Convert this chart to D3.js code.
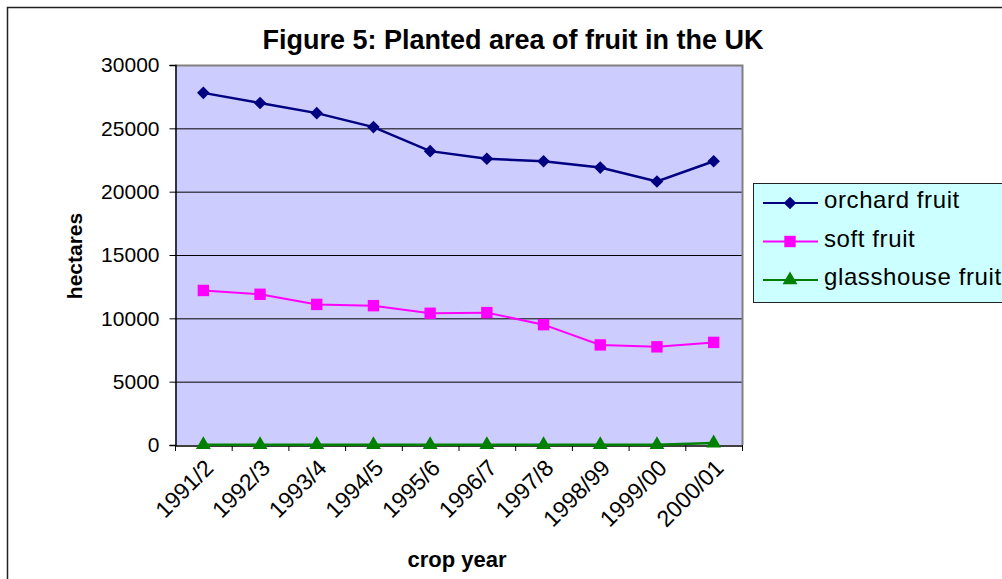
<!DOCTYPE html>
<html>
<head>
<meta charset="utf-8">
<script src="https://cdn.jsdelivr.net/npm/d3@7"></script>
<style>
  body { margin: 0; background: #fff; }
  svg { display: block; font-family: Arial, "Liberation Sans", sans-serif; }
</style>
</head>
<body>
<svg width="1002" height="579"></svg>
<script>
// data
var years = ["1991/2", "1992/3", "1993/4", "1994/5", "1995/6", "1996/7", "1997/8", "1998/99", "1999/00", "2000/01"];
var orchard = [27800, 27000, 26200, 25100, 23200, 22600, 22400, 21900, 20800, 22400];
var soft = [12200, 11900, 11100, 11000, 10400, 10450, 9500, 7900, 7750, 8100];
var glasshouse = [20, 20, 20, 20, 20, 20, 20, 20, 20, 150];
var yTicks = [0, 5000, 10000, 15000, 20000, 25000, 30000];

// diamond = square turned 45 degrees
var diamond = {
  draw: function(ctx, size) {
    var r = Math.sqrt(size / 2);
    ctx.moveTo(0, -r); ctx.lineTo(r, 0); ctx.lineTo(0, r); ctx.lineTo(-r, 0); ctx.closePath();
  }
};

var series = [
  {name: "orchard fruit", values: orchard, color: "#000080", shape: diamond, size: 80, width: 2.5},
  {name: "soft fruit", values: soft, color: "#FF00FF", shape: d3.symbolSquare, size: 130, width: 2},
  {name: "glasshouse fruit", values: glasshouse, color: "#008000", shape: d3.symbolTriangle, size: 95, width: 2.5}
];

var svg = d3.select("svg");
var plot = {left: 175, right: 742, top: 65, bottom: 445};

// outer frame (only top and left visible)
svg.append("path")
  .attr("d", "M7.5,579V7.5H1002")
  .attr("fill", "none").attr("stroke", "#222").attr("stroke-width", 1.5);

var x = d3.scaleBand().domain(years).range([plot.left, plot.right]);
var y = d3.scaleLinear().domain([0, 30000]).range([plot.bottom, plot.top]);

// plot background
svg.append("rect")
  .attr("x", plot.left).attr("y", plot.top)
  .attr("width", plot.right - plot.left).attr("height", plot.bottom - plot.top)
  .attr("fill", "#CCCCFF");

// gridlines
svg.append("g").selectAll("line")
  .data(yTicks.filter(function(d) { return d > 0 && d < 30000; }))
  .enter().append("line")
  .attr("x1", plot.left).attr("x2", plot.right)
  .attr("y1", function(d) { return y(d) + 0.5; })
  .attr("y2", function(d) { return y(d) + 0.5; })
  .attr("stroke", "#000").attr("stroke-width", 1);

// gray border top/right
svg.append("path")
  .attr("d", "M" + plot.left + "," + (plot.top + 0.5) + "H" + (plot.right + 0.5) + "V" + plot.bottom)
  .attr("fill", "none").attr("stroke", "#808080").attr("stroke-width", 2);

// y axis
var yAxis = svg.append("g")
  .attr("transform", "translate(" + (plot.left + 0.5) + ",0)")
  .call(d3.axisLeft(y).tickValues(yTicks).tickSize(6).tickPadding(10).tickFormat(d3.format("d")));
yAxis.selectAll("text").attr("font-size", 21).attr("fill", "#000").attr("font-family", "Arial, 'Liberation Sans', sans-serif");
yAxis.selectAll("line, path").attr("stroke", "#000");
yAxis.select(".domain").attr("stroke-width", 1.5);

// x axis
var xAxis = svg.append("g")
  .attr("transform", "translate(0," + (plot.bottom + 0.5) + ")")
  .call(d3.axisBottom(x).tickSize(0).tickFormat(""));
xAxis.select(".domain").attr("stroke", "#000").attr("stroke-width", 1.5);
svg.append("g").selectAll("line")
  .data(years.concat(["end"]))
  .enter().append("line")
  .attr("x1", function(d, i) { return plot.left + i * x.step() + 0.5; })
  .attr("x2", function(d, i) { return plot.left + i * x.step() + 0.5; })
  .attr("y1", plot.bottom).attr("y2", plot.bottom + 6)
  .attr("stroke", "#000");

svg.append("g").selectAll("text")
  .data(years)
  .enter().append("text")
  .attr("transform", function(d) {
    return "translate(" + (x(d) + x.bandwidth() / 2) + "," + (plot.bottom + 13) + ") rotate(-45)";
  })
  .attr("text-anchor", "end")
  .attr("dy", "0.7em")
  .attr("font-size", 23)
  .text(function(d) { return d; });

// lines and markers
var line = d3.line()
  .x(function(d, i) { return x(years[i]) + x.bandwidth() / 2; })
  .y(function(d) { return y(d); });

series.slice().reverse().forEach(function(s) {
  svg.append("path")
    .datum(s.values)
    .attr("d", line)
    .attr("fill", "none")
    .attr("stroke", s.color)
    .attr("stroke-width", s.width);
  svg.append("g").selectAll("path")
    .data(s.values)
    .enter().append("path")
    .attr("transform", function(d, i) {
      return "translate(" + (x(years[i]) + x.bandwidth() / 2) + "," + y(d) + ")";
    })
    .attr("d", d3.symbol().type(s.shape).size(s.size))
    .attr("fill", s.color);
});

// title
svg.append("text")
  .attr("x", 513).attr("y", 49)
  .attr("text-anchor", "middle")
  .attr("font-size", 27).attr("font-weight", "bold")
  .text("Figure 5: Planted area of fruit in the UK");

// axis titles
svg.append("text")
  .attr("transform", "translate(82,256) rotate(-90)")
  .attr("text-anchor", "middle")
  .attr("font-size", 21).attr("font-weight", "bold")
  .text("hectares");

svg.append("text")
  .attr("x", 457).attr("y", 567)
  .attr("text-anchor", "middle")
  .attr("font-size", 22).attr("font-weight", "bold")
  .text("crop year");

// legend
var legend = svg.append("g");
legend.append("rect")
  .attr("x", 753.5).attr("y", 183.5)
  .attr("width", 260).attr("height", 119)
  .attr("fill", "#CCFFFF").attr("stroke", "#222").attr("stroke-width", 1);

var rows = legend.selectAll("g.row")
  .data(series)
  .enter().append("g")
  .attr("class", "row")
  .attr("transform", function(d, i) { return "translate(0," + (203 + i * 38.5) + ")"; });
rows.append("line")
  .attr("x1", 763).attr("x2", 818)
  .attr("stroke", function(d) { return d.color; })
  .attr("stroke-width", 2);
rows.append("path")
  .attr("transform", "translate(790,0)")
  .attr("d", function(d) { return d3.symbol().type(d.shape).size(d.size)(); })
  .attr("fill", function(d) { return d.color; });
rows.append("text")
  .attr("x", 824).attr("y", 5)
  .attr("font-size", 24)
  .attr("letter-spacing", 0.6)
  .text(function(d) { return d.name; });
</script>
</body>
</html>
